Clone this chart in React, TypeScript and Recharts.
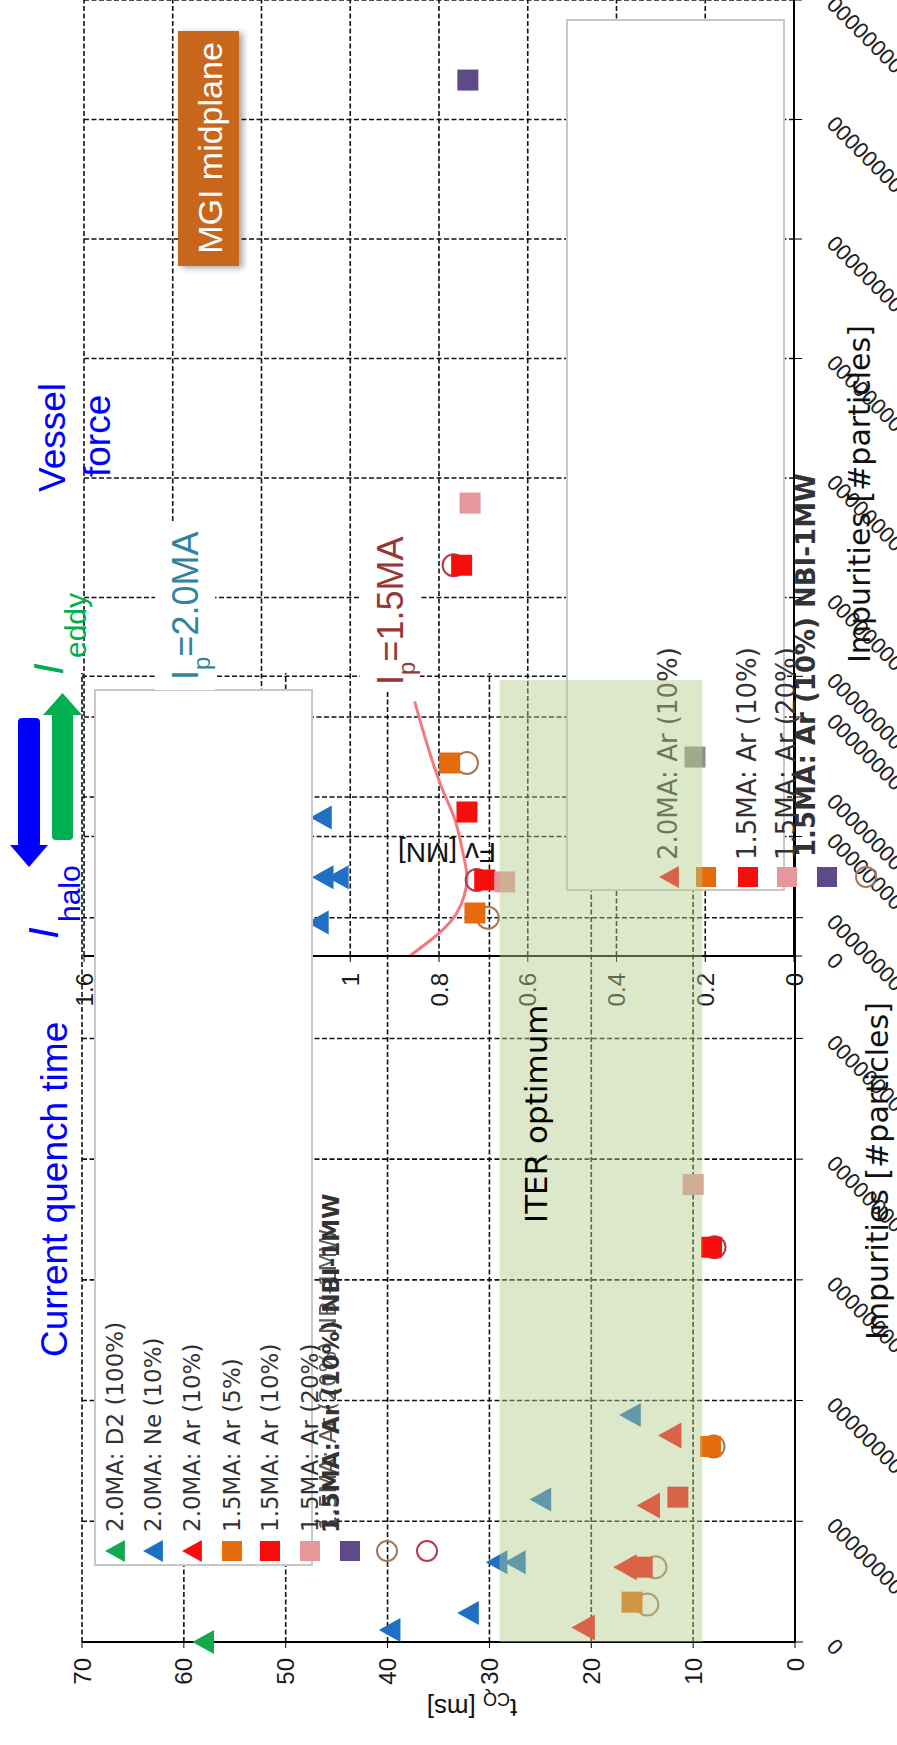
import React from 'react';
import { ScatterChart, ComposedChart, Scatter, Line, XAxis, YAxis, CartesianGrid, ReferenceArea } from 'recharts';

// the whole figure is drawn landscape (1745 x 897) and turned -90deg onto the page

const impTicksMain = [0, 1, 2, 3, 4, 5, 6, 7, 8, 9, 10, 11, 12, 13, 14];
const impTicksFv = [0, 1, 2, 3, 4, 5, 6, 7, 8];
const tcqTicks = [0, 10, 20, 30, 40, 50, 60, 70];
const fvTicks = [0, 0.2, 0.4, 0.6, 0.8, 1, 1.2, 1.4, 1.6];
const zeroLabel = '00000000';

// current quench time t_CQ [ms] vs impurities
const d2Main = [{ imp: 0, t: 58.1 }];
const neMain = [
  { imp: 0.1, t: 39.8 }, { imp: 0.24, t: 32.1 }, { imp: 0.66, t: 29.3 },
  { imp: 0.66, t: 27.5 }, { imp: 1.18, t: 25.0 }, { imp: 1.88, t: 16.2 },
];
const ar10Main = [{ imp: 0.12, t: 20.8 }, { imp: 0.62, t: 16.7 }, { imp: 1.13, t: 14.4 }, { imp: 1.71, t: 12.3 }];
const ar5LowMain = [{ imp: 0.33, t: 16.0 }, { imp: 1.62, t: 8.3 }];
const ar10LowMain = [{ imp: 0.62, t: 15.0 }, { imp: 1.2, t: 11.5 }, { imp: 3.27, t: 8.2 }];
const ar20LowMain = [{ imp: 3.79, t: 10.0 }];
const ringBrownMain = [{ imp: 0.31, t: 14.5 }, { imp: 0.62, t: 13.7 }, { imp: 1.62, t: 8.0 }];
const ringRedMain = [{ imp: 3.27, t: 7.9 }];

// vessel force Fv [MN] vs impurities
const neFv = [{ imp: 0.28, fv: 1.073 }, { imp: 0.66, fv: 1.062 }, { imp: 0.66, fv: 1.028 }, { imp: 1.16, fv: 1.066 }];
const ar5LowFv = [{ imp: 0.36, fv: 0.719 }, { imp: 1.615, fv: 0.776 }];
const ar10LowFv = [{ imp: 0.636, fv: 0.697 }, { imp: 1.205, fv: 0.737 }, { imp: 3.27, fv: 0.749 }];
const ar20LowFv = [{ imp: 0.62, fv: 0.652 }, { imp: 3.79, fv: 0.73 }];
const nbiFv = [{ imp: 7.33, fv: 0.735 }];
const greyFv = [{ imp: 1.665, fv: 0.223 }];
const ringBrownFv = [{ imp: 0.32, fv: 0.69 }, { imp: 1.615, fv: 0.737 }];
const ringRedFv = [{ imp: 0.636, fv: 0.715 }, { imp: 3.27, fv: 0.767 }];
const fitFv = [
  { imp: 0, fv: 0.866 }, { imp: 0.36, fv: 0.76 }, { imp: 0.66, fv: 0.737 }, { imp: 0.86, fv: 0.746 },
  { imp: 1.14, fv: 0.764 }, { imp: 1.41, fv: 0.794 }, { imp: 2.13, fv: 0.855 },
];

// ITER optimum window
const bandT = [9.1, 29];
const bandImp = [0, 7.97];

const mainLegend = [
  '2.0MA: D2 (100%)', '2.0MA: Ne (10%)', '2.0MA: Ar (10%)',
  '1.5MA: Ar (5%)', '1.5MA: Ar (10%)', '1.5MA: Ar (20%)',
];

const C = {
  green: '#12a84e',
  blue: '#1f6fc2',
  red: '#f80d0d',
  orange: '#e56b0c',
  pink: '#e5979c',
  purple: '#5e4a86',
  brown: '#a3785c',
  crimson: '#b33a4f',
  grey: '#8f8f8f',
};

type P = { cx?: number; cy?: number };

const triangle = (fill: string, s = 24) => (p: P) => {
  const cx = p.cx ?? 0;
  const cy = p.cy ?? 0;
  const h = s * 0.9;
  return <polygon points={`${cx},${cy - h / 2} ${cx - s / 2},${cy + h / 2} ${cx + s / 2},${cy + h / 2}`} fill={fill} />;
};
const square = (fill: string, s = 21) => (p: P) => (
  <rect x={(p.cx ?? 0) - s / 2} y={(p.cy ?? 0) - s / 2} width={s} height={s} fill={fill} />
);
const ring = (stroke: string, r = 10) => (p: P) => (
  <circle cx={p.cx} cy={p.cy} r={r} fill="none" stroke={stroke} strokeWidth={2} />
);
const nothing = () => <g />;

const ImpTick = (props: any) => {
  const { x, payload } = props;
  const ax = x + 5;
  const ay = 836;
  return (
    <text x={ax} y={ay} transform={`rotate(-45, ${ax}, ${ay})`} textAnchor="end" fontSize={22} fill="#222" fontFamily="Liberation Sans">
      {payload.value === 0 ? '0' : zeroLabel}
    </text>
  );
};

const fmtFv = (v: number) => (v === 0 ? '0' : v === 1 ? '1' : v.toFixed(1));

const tickStyle = { fontSize: 24, fill: '#1a1a1a', fontFamily: 'Liberation Sans' };
const gridProps = { stroke: '#111', strokeDasharray: '5 2.5', strokeWidth: 1.6 };
const axisLine = { stroke: '#000', strokeWidth: 2 };

const LegendMarker = ({ kind, u, v }: { kind: string; u: number; v: number }) => {
  if (kind === 'tri-green') return triangle(C.green, 22)({ cx: u, cy: v });
  if (kind === 'tri-blue') return triangle(C.blue, 22)({ cx: u, cy: v });
  if (kind === 'tri-red') return triangle(C.red, 22)({ cx: u, cy: v });
  if (kind === 'sq-orange') return square(C.orange, 20)({ cx: u, cy: v });
  if (kind === 'sq-red') return square(C.red, 20)({ cx: u, cy: v });
  if (kind === 'sq-pink') return square(C.pink, 20)({ cx: u, cy: v });
  if (kind === 'sq-purple') return square(C.purple, 20)({ cx: u, cy: v });
  if (kind === 'ring-brown') return ring(C.brown, 10)({ cx: u, cy: v });
  return ring(C.crimson, 10)({ cx: u, cy: v });
};

const mainRows = [115, 153, 192, 232, 270, 310, 350, 387, 427];
const mainKinds = ['tri-green', 'tri-blue', 'tri-red', 'sq-orange', 'sq-red', 'sq-pink', 'sq-purple', 'ring-brown', 'ring-crimson'];
const fvRows = [669, 706, 748, 787, 827, 866];
const fvKinds = ['tri-red', 'sq-orange', 'sq-red', 'sq-pink', 'sq-purple', 'ring-brown'];

const legendText = { fontSize: 23, fill: '#333', fontFamily: 'DejaVu Sans' };

export default function App() {
  return (
    <div style={{ position: 'absolute', left: 0, top: 0, width: 897, height: 1745, overflow: 'hidden', background: '#fff' }}>
      <div
        style={{
          position: 'absolute', left: 0, top: 0, width: 1745, height: 897,
          transformOrigin: '0 0', transform: 'translate(0px, 1745px) rotate(-90deg)',
          fontFamily: 'Liberation Sans',
        }}
      >
        {/* current quench time */}
        <div style={{ position: 'absolute', left: 0, top: 0 }}>
          <ScatterChart width={1800} height={897} margin={{ top: 82, right: 7, bottom: 42, left: 43 }}>
            <CartesianGrid {...gridProps} />
            <XAxis type="number" dataKey="imp" domain={[0, 14]} ticks={impTicksMain} interval={0} height={60}
              axisLine={axisLine} tickLine={{ stroke: '#000' }} tickSize={8} tick={(p: any) => <ImpTick {...p} />} />
            <YAxis type="number" dataKey="t" domain={[0, 70]} ticks={tcqTicks} interval={0} width={60}
              axisLine={axisLine} tickLine={{ stroke: '#000' }} tickSize={6} tickMargin={10} tick={tickStyle} />
            <Scatter data={d2Main} shape={triangle(C.green)} isAnimationActive={false} />
            <Scatter data={neMain} shape={triangle(C.blue)} isAnimationActive={false} />
            <Scatter data={ringBrownMain} shape={ring(C.brown, 11)} isAnimationActive={false} />
            <Scatter data={ringRedMain} shape={ring(C.crimson, 11)} isAnimationActive={false} />
            <Scatter data={ar5LowMain} shape={square(C.orange)} isAnimationActive={false} />
            <Scatter data={ar10LowMain} shape={square(C.red)} isAnimationActive={false} />
            <Scatter data={ar20LowMain} shape={square(C.pink)} isAnimationActive={false} />
            <Scatter data={ar10Main} shape={triangle(C.red, 26)} isAnimationActive={false} />
          </ScatterChart>
        </div>

        {/* the force panel is pasted over the upper part */}
        <div style={{ position: 'absolute', left: 1072, top: 0, width: 700, height: 897, background: '#fff' }} />

        <div style={{ position: 'absolute', left: 0, top: 0 }}>
          <ComposedChart width={1760} height={897} margin={{ top: 84, right: 15, bottom: 43, left: 729 }}>
            <CartesianGrid {...gridProps} />
            <XAxis type="number" dataKey="imp" domain={[0, 8]} ticks={impTicksFv} interval={0} height={60}
              axisLine={axisLine} tickLine={{ stroke: '#000' }} tickSize={8} tick={(p: any) => <ImpTick {...p} />} />
            <YAxis type="number" dataKey="fv" domain={[0, 1.6]} ticks={fvTicks} interval={0} width={60}
              tickFormatter={fmtFv} axisLine={axisLine} tickLine={{ stroke: '#000' }} tickSize={6} tickMargin={11} tick={tickStyle} />
            <Line data={fitFv} dataKey="fv" type="monotone" stroke="#f27a7f" strokeWidth={3} dot={false} isAnimationActive={false} />
            <Scatter data={neFv} dataKey="fv" shape={triangle(C.blue)} isAnimationActive={false} />
            <Scatter data={ringBrownFv} dataKey="fv" shape={ring(C.brown, 11)} isAnimationActive={false} />
            <Scatter data={ringRedFv} dataKey="fv" shape={ring(C.crimson, 11)} isAnimationActive={false} />
            <Scatter data={ar5LowFv} dataKey="fv" shape={square(C.orange)} isAnimationActive={false} />
            <Scatter data={ar10LowFv} dataKey="fv" shape={square(C.red)} isAnimationActive={false} />
            <Scatter data={ar20LowFv} dataKey="fv" shape={square(C.pink)} isAnimationActive={false} />
            <Scatter data={nbiFv} dataKey="fv" shape={square(C.purple)} isAnimationActive={false} />
          </ComposedChart>
        </div>

        {/* legends */}
        <svg width={1745} height={897} style={{ position: 'absolute', left: 0, top: 0 }}>
          <rect x={180} y={95} width={875} height={217} fill="#fff" stroke="#c8c8c8" strokeWidth={2} />
          {mainKinds.map((k, i) => <LegendMarker key={k} kind={k} u={194} v={mainRows[i]} />)}
          {mainLegend.map((s, i) => (
            <text key={s} x={213} y={mainRows[i] + 8} {...legendText}>{s}</text>
          ))}
          <text x={212} y={339} {...legendText} fontWeight="bold">1.5MA: Ar (10%) NBI-1MW</text>
          <text x={215} y={336} {...legendText} opacity={0.8}>1.5MA: Ar (20%) NBI-1MW</text>

          <rect x={855} y={567} width={870} height={217} fill="#fff" stroke="#c8c8c8" strokeWidth={2} />
          {fvKinds.map((k, i) => <LegendMarker key={k} kind={k} u={868} v={fvRows[i]} />)}
          <text x={885} y={677} {...legendText} fontSize={26}>2.0MA: Ar (10%)</text>
          <text x={885} y={756} {...legendText} fontSize={26}>1.5MA: Ar (10%)</text>
          <text x={885} y={795} {...legendText} fontSize={26}>1.5MA: Ar (20%)</text>
          <text x={888} y={815} {...legendText} fontSize={26} fontWeight="bold">1.5MA: Ar (10%) NBI-1MW</text>
        </svg>

        {/* grey force point that sits over the legend box */}
        <div style={{ position: 'absolute', left: 0, top: 0 }}>
          <ScatterChart width={1760} height={897} margin={{ top: 84, right: 15, bottom: 103, left: 789 }}>
            <XAxis type="number" dataKey="imp" domain={[0, 8]} hide />
            <YAxis type="number" dataKey="fv" domain={[0, 1.6]} hide />
            <Scatter data={greyFv} shape={square(C.grey)} isAnimationActive={false} />
          </ScatterChart>
        </div>

        {/* ITER optimum band */}
        <div style={{ position: 'absolute', left: 0, top: 0 }}>
          <ScatterChart width={1800} height={897} margin={{ top: 82, right: 7, bottom: 102, left: 103 }}>
            <XAxis type="number" dataKey="imp" domain={[0, 14]} hide />
            <YAxis type="number" dataKey="t" domain={[0, 70]} hide />
            <Scatter
              data={[{ imp: bandImp[0], t: bandT[0] }, { imp: bandImp[1], t: bandT[1] }]}
              shape={nothing}
              isAnimationActive={false}
            />
            <ReferenceArea x1={bandImp[0]} x2={bandImp[1]} y1={bandT[0]} y2={bandT[1]}
              fill="#b4cd8c" fillOpacity={0.45} stroke="none" ifOverflow="visible" />
          </ScatterChart>
        </div>

        {/* annotations */}
        <svg width={1745} height={897} style={{ position: 'absolute', left: 0, top: 0 }}>
          <defs>
            <filter id="sh" x="-20%" y="-20%" width="140%" height="160%">
              <feDropShadow dx={-2} dy={4} stdDeviation={3} floodColor="#000" floodOpacity={0.35} />
            </filter>
          </defs>
          <text x={388} y={67} fontSize={37} fill="#0000ff">Current quench time</text>
          <text x={1253} y={65} fontSize={37} fill="#0000ff">Vessel</text>
          <text x={1268} y={110} fontSize={37} fill="#0000ff">force</text>

          <text x={1070} y={63} fontSize={42} fontStyle="italic" fill="#00b050">I</text>
          <text x={1087} y={86} fontSize={30} fill="#00b050">eddy</text>
          <text x={806} y={58} fontSize={42} fontStyle="italic" fill="#0000ff">I</text>
          <text x={823} y={80} fontSize={30} fill="#0000ff">halo</text>

          <rect x={898} y={18} width={129} height={22} rx={4} fill="#0000ff" />
          <polygon points="900,10 900,48 878,29" fill="#0000ff" />
          <rect x={905} y={52} width={129} height={21} rx={4} fill="#00b050" />
          <polygon points="1030,43 1030,82 1052,62.5" fill="#00b050" />

          <rect x={1055} y={155} width={168} height={60} fill="#fff" />
          <text x={1065} y={198} fontSize={36} fill="#31849b">
            I<tspan fontSize={24} dy={12}>p</tspan><tspan dy={-12}>=2.0MA</tspan>
          </text>
          <rect x={1055} y={360} width={168} height={60} fill="#fff" />
          <text x={1060} y={403} fontSize={36} fill="#953735">
            I<tspan fontSize={24} dy={12}>p</tspan><tspan dy={-12}>=1.5MA</tspan>
          </text>

          <rect x={1479} y={178} width={235} height={61} fill="#c8661c" filter="url(#sh)" />
          <text x={1597} y={222} fontSize={34} fill="#fff" textAnchor="middle">MGI midplane</text>

          <text x={522} y={547} fontSize={31} fill="#000" fontFamily="DejaVu Sans">ITER optimum</text>

          <text x={46} y={472} transform="rotate(-90, 46, 472)" fontSize={26} fill="#111" textAnchor="middle">
            t<tspan fontSize={18} dy={6}>CQ</tspan><tspan dy={-6}> [ms]</tspan>
          </text>
          <text x={902} y={447} transform="rotate(-90, 902, 447)" fontSize={28} fill="#111" textAnchor="middle">Fv [MN]</text>

          <text x={405} y={888} fontSize={30} fill="#111" fontFamily="DejaVu Sans">Impurities [#particles]</text>
          <text x={1082} y={870} fontSize={30} fill="#111" fontFamily="DejaVu Sans">Impurities [#particles]</text>
        </svg>
      </div>
    </div>
  );
}
